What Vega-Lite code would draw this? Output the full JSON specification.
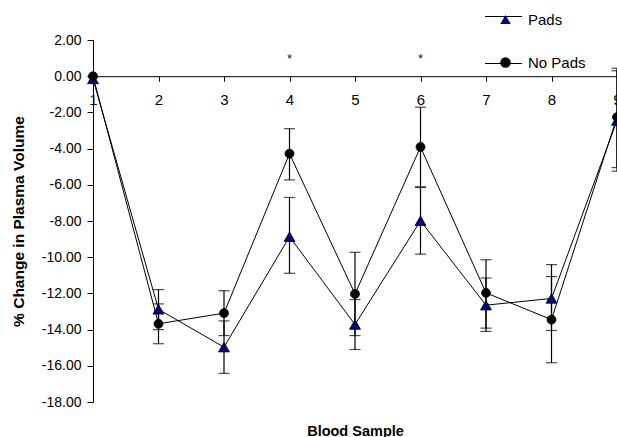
{
  "$schema": "https://vega.github.io/schema/vega-lite/v6.json",
  "width": 524,
  "height": 362,
  "autosize": "none",
  "padding": {"left": 93, "top": 40, "right": 0, "bottom": 35},
  "background": "white",
  "config": {
    "view": {"stroke": null},
    "font": "Liberation Sans",
    "locale": {"number": {"decimal": ".", "thousands": ",", "grouping": [3], "currency": ["$", ""], "minus": "-"}},
    "axis": {"domainColor": "black", "tickColor": "black", "labelColor": "black", "titleColor": "black", "grid": false, "labelFont": "Liberation Sans", "titleFont": "Liberation Sans", "labelOverlap": false},
    "axisY": {"labelOverlap": false}
  },
  "resolve": {"axis": {"y": "independent"}},
  "datasets": {
    "pts": [
      {"sample": 1, "series": "Pads", "value": -0.15, "lo": null, "hi": null},
      {"sample": 2, "series": "Pads", "value": -12.88, "lo": -14.0, "hi": -11.79},
      {"sample": 3, "series": "Pads", "value": -14.97, "lo": -16.42, "hi": -13.52},
      {"sample": 4, "series": "Pads", "value": -8.87, "lo": -10.89, "hi": -6.70},
      {"sample": 5, "series": "Pads", "value": -13.72, "lo": -15.10, "hi": -12.34},
      {"sample": 6, "series": "Pads", "value": -7.99, "lo": -9.83, "hi": -6.15},
      {"sample": 7, "series": "Pads", "value": -12.65, "lo": -14.10, "hi": -11.15},
      {"sample": 8, "series": "Pads", "value": -12.28, "lo": -14.05, "hi": -10.41},
      {"sample": 9, "series": "Pads", "value": -2.45, "lo": -5.25, "hi": 0.30},
      {"sample": 1, "series": "No Pads", "value": 0.0, "lo": null, "hi": null},
      {"sample": 2, "series": "No Pads", "value": -13.68, "lo": -14.78, "hi": -12.58},
      {"sample": 3, "series": "No Pads", "value": -13.09, "lo": -14.33, "hi": -11.85},
      {"sample": 4, "series": "No Pads", "value": -4.28, "lo": -5.73, "hi": -2.90},
      {"sample": 5, "series": "No Pads", "value": -12.03, "lo": -14.33, "hi": -9.73},
      {"sample": 6, "series": "No Pads", "value": -3.91, "lo": -6.11, "hi": -1.71},
      {"sample": 7, "series": "No Pads", "value": -11.97, "lo": -13.92, "hi": -10.14},
      {"sample": 8, "series": "No Pads", "value": -13.45, "lo": -15.83, "hi": -11.07},
      {"sample": 9, "series": "No Pads", "value": -2.26, "lo": -5.05, "hi": 0.44}
    ],
    "stars": [
      {"sample": 4, "value": 0.95, "label": "*"},
      {"sample": 6, "value": 0.95, "label": "*"}
    ],
    "keys": [
      {"key": "Pads"},
      {"key": "No Pads"}
    ]
  },
  "layer": [
    {
      "data": {"name": "pts"},
      "mark": {"type": "line", "color": "black", "strokeWidth": 1},
      "encoding": {
        "x": {"field": "sample", "type": "quantitative", "scale": {"domain": [1, 9], "nice": false, "zero": false},
          "axis": {"orient": "bottom", "offset": -325.8, "values": [1,2,3,4,5,6,7,8,9], "format": "d", "labelFontSize": 15, "tickSize": 5, "labelPadding": 11, "title": "Blood Sample", "titleFontSize": 14.5, "titleFontWeight": "bold", "titleY": 355, "titleBaseline": "middle", "labelFlush": false, "labelOverlap": false}},
        "y": {"field": "value", "type": "quantitative", "scale": {"domain": [-18, 2], "nice": false, "zero": false},
          "axis": {"orient": "left", "values": [2,-2,-6,-10,-14,-18], "format": ".2f", "labelFontSize": 14, "tickSize": 6, "labelPadding": 6, "title": "% Change in Plasma Volume", "titleFontSize": 15.5, "titleFontWeight": "bold", "titleX": -75, "titleBaseline": "middle", "labelFlush": false, "labelOverlap": false, "labelBound": false}},
        "detail": {"field": "series"}
      }
    },
    {
      "data": {"name": "pts"},
      "mark": {"type": "rule", "color": "black", "strokeWidth": 1.2},
      "encoding": {
        "x": {"field": "sample", "type": "quantitative"},
        "y": {"field": "lo", "type": "quantitative",
          "axis": {"orient": "left", "values": [0,-4,-8,-12,-16], "format": ".2f", "labelFontSize": 14, "tickSize": 6, "labelPadding": 6, "title": null, "domain": false, "labelFlush": false, "labelOverlap": false, "labelBound": false}},
        "y2": {"field": "hi"}
      }
    },
    {
      "data": {"name": "pts"},
      "mark": {"type": "tick", "orient": "horizontal", "color": "black", "size": 11, "thickness": 1.2},
      "encoding": {
        "x": {"field": "sample", "type": "quantitative"},
        "y": {"field": "lo", "type": "quantitative", "axis": null}
      }
    },
    {
      "data": {"name": "pts"},
      "mark": {"type": "tick", "orient": "horizontal", "color": "black", "size": 11, "thickness": 1.2},
      "encoding": {
        "x": {"field": "sample", "type": "quantitative"},
        "y": {"field": "hi", "type": "quantitative", "axis": null}
      }
    },
    {
      "data": {"name": "pts"},
      "transform": [{"filter": {"field": "series", "equal": "Pads"}}],
      "mark": {"type": "point", "shape": "triangle-up", "filled": true, "opacity": 1, "fill": "#000080", "stroke": "black", "strokeWidth": 0.8, "size": 120},
      "encoding": {
        "x": {"field": "sample", "type": "quantitative"},
        "y": {"field": "value", "type": "quantitative", "axis": null}
      }
    },
    {
      "data": {"name": "pts"},
      "transform": [{"filter": {"field": "series", "equal": "No Pads"}}],
      "mark": {"type": "point", "shape": "circle", "filled": true, "opacity": 1, "fill": "black", "stroke": "black", "strokeWidth": 0.8, "size": 80},
      "encoding": {
        "x": {"field": "sample", "type": "quantitative"},
        "y": {"field": "value", "type": "quantitative", "axis": null}
      }
    },
    {
      "data": {"name": "keys"},
      "transform": [{"filter": {"field": "key", "equal": "none"}}],
      "mark": {"type": "line", "strokeWidth": 1},
      "encoding": {
        "stroke": {"field": "key", "type": "nominal",
          "scale": {"domain": ["Pads ", "No Pads "], "range": ["black", "black"]},
          "legend": {"orient": "none", "legendX": 391.5, "legendY": -42.5, "title": null, "padding": 0, "labelFontSize": 15, "labelColor": "transparent", "labelExpr": "''", "symbolType": "stroke", "symbolSize": 1369, "symbolStrokeWidth": 1, "rowPadding": 20, "labelOffset": 5}}
      }
    },
    {
      "data": {"name": "keys"},
      "transform": [{"filter": {"field": "key", "equal": "none"}}],
      "mark": {"type": "point", "filled": true, "opacity": 1, "stroke": "black", "strokeWidth": 0.8},
      "encoding": {
        "shape": {"field": "key", "type": "nominal",
          "scale": {"domain": ["Pads", "No Pads"], "range": ["triangle-up", "circle"]},
          "legend": {"orient": "none", "legendX": 405, "legendY": -28, "title": null, "padding": 0, "labelFontSize": 15, "labelFont": "Liberation Sans", "labelColor": "black", "symbolSize": 110, "labelOffset": 15, "rowPadding": 27, "symbolStrokeColor": "black", "symbolStrokeWidth": 0.8}},
        "fill": {"field": "key", "type": "nominal",
          "scale": {"domain": ["Pads", "No Pads"], "range": ["#000080", "black"]},
          "legend": {"orient": "none", "legendX": 405, "legendY": -28, "title": null, "padding": 0, "labelFontSize": 15, "labelFont": "Liberation Sans", "labelColor": "black", "symbolSize": 110, "labelOffset": 15, "rowPadding": 27, "symbolStrokeColor": "black", "symbolStrokeWidth": 0.8}}
      }
    },
    {
      "data": {"name": "stars"},
      "mark": {"type": "text", "fontSize": 12, "color": "black", "font": "Liberation Sans"},
      "encoding": {
        "x": {"field": "sample", "type": "quantitative"},
        "y": {"field": "value", "type": "quantitative", "axis": null},
        "text": {"field": "label"}
      }
    }
  ]
}
